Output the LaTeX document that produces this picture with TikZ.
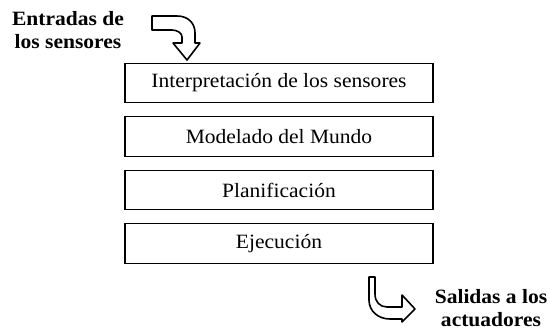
\documentclass[tikz,border=0pt]{standalone}
\usepackage{fontspec}
\setmainfont{Liberation Serif}[FakeStretch=1.06]

\tikzset{
  capa/.style={draw, line width=1.1pt, minimum width=308pt, minimum height=39.5pt,
    inner sep=0pt, font=\fontsize{20.3}{23}\selectfont},
  rotulo/.style={align=center, font=\fontsize{20.3}{23}\selectfont\bfseries},
  flecha/.style={line width=1.6pt, line join=round}
}

\begin{document}
\begin{tikzpicture}[x=1pt,y=-1pt]
        \useasboundingbox (0,0) rectangle (550,331);
        \node[capa] (interp) at (279,83) {Interpretación de los sensores};
        \node[capa] (modelo) at (279,136.5) {Modelado del Mundo};
        \node[capa] (plan) at (279,190) {Planificación};
        \node[capa] (ejec) at (279,243.5) {Ejecución};
        \node[rotulo] (entradas) at (68,30) {Entradas de\\los sensores};
        \node[rotulo] (salidas) at (491,308) {Salidas a los\\actuadores};
        % flecha de entrada
        \draw[flecha] (152,16) -- (177,16) .. controls (188,16) and (195,23) .. (195,33)
            -- (195,43) -- (200,43) -- (187,60) -- (173,43) -- (182,43) -- (182,37)
            .. controls (182,33) and (177,30) .. (172,30) -- (152,30) -- cycle;
        % flecha de salida
        \draw[flecha] (369,277) -- (375,277) -- (375,294) .. controls (375,302) and (380,307) .. (387,307)
            -- (402,307) -- (402,295) -- (415,309) -- (402,322) -- (402,319) -- (390,319)
            .. controls (378,319) and (369,311) .. (369,300) -- cycle;
\end{tikzpicture}
\end{document}
